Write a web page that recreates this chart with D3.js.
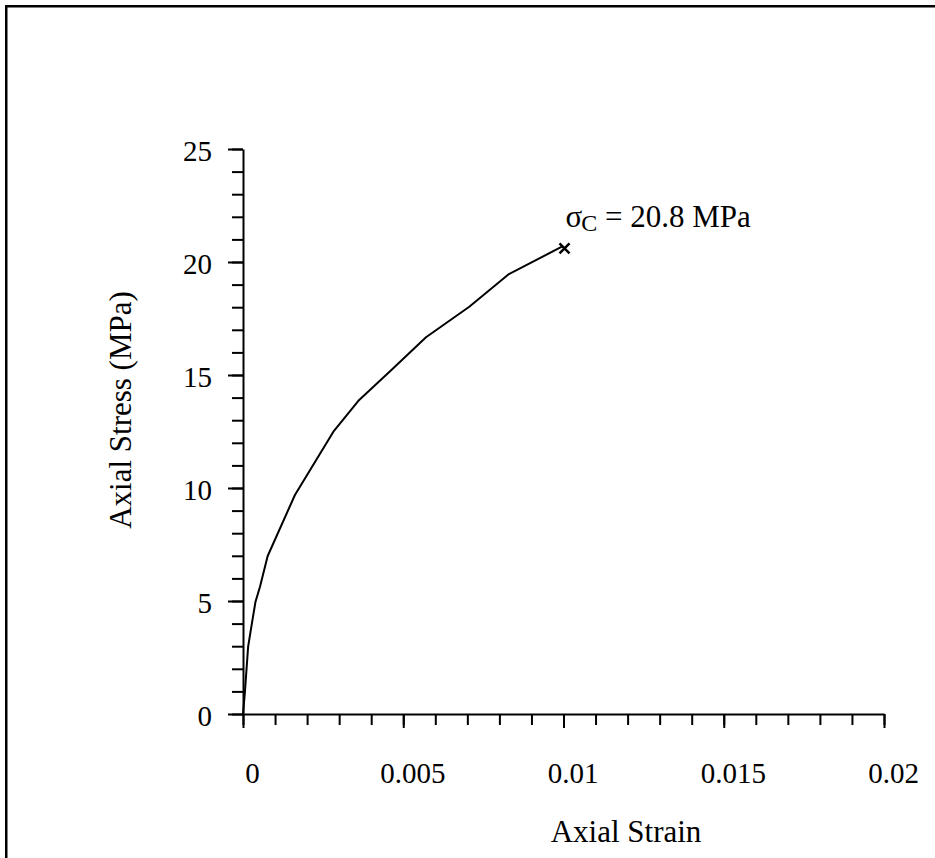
<!DOCTYPE html>
<html>
<head>
<meta charset="utf-8">
<script src="https://cdn.jsdelivr.net/npm/d3@7"></script>
<style>
  html, body { margin: 0; padding: 0; background: #fff; }
  svg { display: block; }
  text { font-family: "Liberation Serif", "Times New Roman", serif; fill: #000; }
</style>
</head>
<body>
<svg id="chart" width="935" height="858"></svg>
<script>
// ---- data ----
const strain = [0, 0.00006, 0.00016, 0.00027, 0.00039, 0.00053, 0.00077, 0.00162, 0.00282, 0.00360, 0.00463, 0.00571, 0.00706, 0.00828, 0.00998];
const stress = [0, 0.98, 2.98, 3.94, 4.97, 5.63, 6.99, 9.69, 12.49, 13.86, 15.22, 16.67, 18.02, 19.45, 20.7];
const failureStrain = [0.0100];
const failureStress = [20.6];
const annotation = "= 20.8 MPa";
const xMajorTicks = [0, 0.005, 0.01, 0.015, 0.02];
const xTickLabels = ["0", "0.005", "0.01", "0.015", "0.02"];
const xMinorTicks = d3.range(0, 21).map(i => i * 0.001);
const yMajorTicks = [0, 5, 10, 15, 20, 25];
const yTickLabels = ["0", "5", "10", "15", "20", "25"];
const yMinorTicks = d3.range(0, 26);
const xTitle = "Axial Strain";
const yTitle = "Axial Stress (MPa)";

// ---- layout ----
const svg = d3.select("#chart");
const x = d3.scaleLinear().domain([0, 0.02]).range([243, 884]);
const y = d3.scaleLinear().domain([0, 25]).range([714, 149]);
const fs = 29;   // tick labels
const fsT = 31;  // titles / annotation

// outer frame (only top/left visible)
svg.append("rect").attr("x", 6.25).attr("y", 6.25).attr("width", 1200).attr("height", 1200)
  .attr("fill", "none").attr("stroke", "#000").attr("stroke-width", 2.5);

// minor ticks
svg.append("g").attr("transform", `translate(0,${y(0)})`)
  .call(d3.axisBottom(x).tickValues(xMinorTicks).tickSize(11).tickFormat(""))
  .call(g => g.select(".domain").remove())
  .call(g => g.selectAll("line").attr("stroke-width", 2));
svg.append("g").attr("transform", `translate(${x(0)},0)`)
  .call(d3.axisLeft(y).tickValues(yMinorTicks).tickSize(11).tickFormat(""))
  .call(g => g.select(".domain").remove())
  .call(g => g.selectAll("line").attr("stroke-width", 2));

// major x axis
const gx = svg.append("g").attr("transform", `translate(0,${y(0)})`)
  .call(d3.axisBottom(x).tickValues(xMajorTicks).tickSize(14).tickSizeOuter(0)
    .tickFormat((d, i) => xTickLabels[i]));
gx.select(".domain").attr("stroke-width", 2);
gx.selectAll("line").attr("stroke-width", 2);
gx.selectAll("text").attr("y", 69).attr("dy", 0).attr("dx", 9)
  .style("font-family", "Liberation Serif, serif").style("font-size", fs + "px");

// major y axis
const gy = svg.append("g").attr("transform", `translate(${x(0)},0)`)
  .call(d3.axisLeft(y).tickValues(yMajorTicks).tickSize(15).tickSizeOuter(0).tickPadding(16)
    .tickFormat((d, i) => yTickLabels[i]));
gy.select(".domain").attr("stroke-width", 2);
gy.selectAll("line").attr("stroke-width", 2);
gy.selectAll("text").attr("dy", "0.38em")
  .style("font-family", "Liberation Serif, serif").style("font-size", fs + "px");

// curve
const pts = strain.map((s, i) => [s, stress[i]]);
svg.append("path").datum(pts)
  .attr("fill", "none").attr("stroke", "#000").attr("stroke-width", 2)
  .attr("stroke-linejoin", "round")
  .attr("d", d3.line().x(d => x(d[0])).y(d => y(d[1])));

// failure marker (x)
const fx = x(failureStrain[0]) + 1, fy = y(failureStress[0]);
svg.append("path")
  .attr("d", `M${fx - 5},${fy - 5}L${fx + 5},${fy + 5}M${fx - 5},${fy + 5}L${fx + 5},${fy - 5}`)
  .attr("stroke", "#000").attr("stroke-width", 2.5).attr("fill", "none");

// annotation
const ann = svg.append("text").attr("x", fx + 1).attr("y", fy - 21).style("font-size", fsT + "px");
ann.append("tspan").text("σ");
ann.append("tspan").attr("dx", -1).attr("dy", 4).style("font-size", "24px").text("C");
ann.append("tspan").attr("dy", -4).text(" " + annotation);

// axis titles
svg.append("text").attr("x", 626).attr("y", 842).attr("text-anchor", "middle")
  .style("font-size", fsT + "px").text(xTitle);
svg.append("text").attr("transform", `translate(131,410) rotate(-90)`)
  .attr("text-anchor", "middle").style("font-size", fsT + "px").text(yTitle);
</script>
</body>
</html>
